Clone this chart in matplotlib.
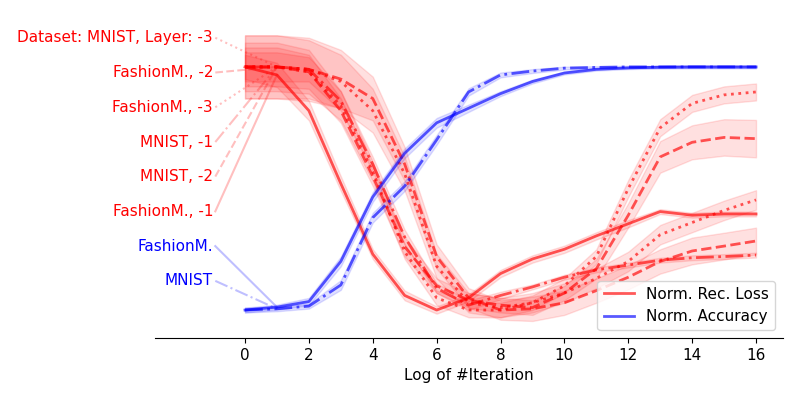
import numpy as np
import matplotlib
matplotlib.use("Agg")
import matplotlib.pyplot as plt

plt.rcParams['font.size'] = 11
plt.rcParams['font.family'] = ['DejaVu Sans']

iterations = list(range(17))

# Normalised reconstruction loss (red) — mean and spread
loss_labels = ["Dataset: MNIST, Layer: -3", "FashionM., -2", "FashionM., -3",
               "MNIST, -1", "MNIST, -2", "FashionM., -1"]
loss_styles = [":", "--", ":", "-.", "--", "-"]
loss_mnist_l3 = [1.0, 1.0, 0.99, 0.94, 0.82, 0.56, 0.18, 0.03, 0.01, 0.03, 0.07, 0.13, 0.20, 0.31, 0.36, 0.41, 0.453]
loss_fash_l2 = [1.0, 1.0, 0.99, 0.95, 0.87, 0.60, 0.22, 0.05, 0.0, 0.005, 0.03, 0.08, 0.135, 0.20, 0.243, 0.263, 0.284]
loss_fash_l3 = [1.0, 1.0, 0.98, 0.84, 0.57, 0.24, 0.05, 0.0, 0.0, 0.03, 0.10, 0.22, 0.50, 0.75, 0.85, 0.885, 0.897]
loss_mnist_l1 = [1.0, 1.0, 0.99, 0.86, 0.60, 0.30, 0.09, 0.02, 0.06, 0.095, 0.135, 0.165, 0.185, 0.205, 0.215, 0.22, 0.226]
loss_mnist_l2 = [1.0, 1.0, 0.98, 0.82, 0.55, 0.26, 0.10, 0.04, 0.02, 0.01, 0.07, 0.17, 0.39, 0.63, 0.69, 0.71, 0.705]
loss_fash_l1 = [1.0, 0.967, 0.82, 0.52, 0.23, 0.06, 0.0, 0.05, 0.15, 0.21, 0.25, 0.305, 0.355, 0.405, 0.39, 0.395, 0.395]

std_mnist_l3 = [0.13, 0.13, 0.12, 0.11, 0.09, 0.07, 0.05, 0.04, 0.04, 0.04, 0.04, 0.04, 0.04, 0.04, 0.04, 0.04, 0.04]
std_fash_l2 = [0.13, 0.13, 0.13, 0.12, 0.09, 0.07, 0.05, 0.04, 0.04, 0.05, 0.05, 0.05, 0.05, 0.05, 0.055, 0.055, 0.055]
std_fash_l3 = [0.10, 0.10, 0.09, 0.06, 0.04, 0.03, 0.03, 0.03, 0.03, 0.03, 0.03, 0.03, 0.035, 0.035, 0.035, 0.035, 0.035]
std_mnist_l1 = [0.06, 0.06, 0.05, 0.04, 0.03, 0.03, 0.02, 0.02, 0.015, 0.01, 0.01, 0.01, 0.01, 0.01, 0.01, 0.01, 0.01]
std_mnist_l2 = [0.08, 0.08, 0.07, 0.05, 0.04, 0.04, 0.03, 0.03, 0.03, 0.03, 0.03, 0.04, 0.05, 0.065, 0.07, 0.075, 0.077]
std_fash_l1 = [0.05, 0.05, 0.04, 0.03, 0.02, 0.02, 0.015, 0.015, 0.015, 0.015, 0.015, 0.015, 0.015, 0.01, 0.01, 0.01, 0.01]

# Normalised accuracy (blue)
acc_labels = ["FashionM.", "MNIST"]
acc_styles = ["-", "-."]
acc_fash = [0.0, 0.012, 0.035, 0.20, 0.465, 0.645, 0.77, 0.83, 0.89, 0.94, 0.975, 0.99, 0.996, 0.999, 1.0, 1.0, 1.0]
acc_mnist = [0.0, 0.005, 0.016, 0.103, 0.38, 0.51, 0.70, 0.897, 0.967, 0.983, 0.995, 0.998, 1.0, 1.0, 1.0, 1.0, 1.0]
acc_std_fash = [0.01, 0.01, 0.015, 0.02, 0.02, 0.02, 0.02, 0.015, 0.01, 0.008, 0.006, 0.005, 0.005, 0.005, 0.005, 0.005, 0.005]
acc_std_mnist = [0.01, 0.01, 0.01, 0.02, 0.02, 0.02, 0.02, 0.015, 0.01, 0.008, 0.006, 0.005, 0.005, 0.005, 0.005, 0.005, 0.005]

label_y = [1.12, 0.977, 0.834, 0.691, 0.549, 0.406, 0.263, 0.12]
xticks = [0, 2, 4, 6, 8, 10, 12, 14, 16]

loss_means = [loss_mnist_l3, loss_fash_l2, loss_fash_l3, loss_mnist_l1, loss_mnist_l2, loss_fash_l1]
loss_stds = [std_mnist_l3, std_fash_l2, std_fash_l3, std_mnist_l1, std_mnist_l2, std_fash_l1]
acc_means = [acc_fash, acc_mnist]
acc_stds = [acc_std_fash, acc_std_mnist]

fig = plt.figure(figsize=(8, 4), dpi=100)
ax = fig.add_axes([155/800, 62/400, 628/800, 318/400])
x = np.array(iterations)

series = []
for lab, st, m, s in zip(loss_labels, loss_styles, loss_means, loss_stds):
    series.append((lab, st, np.array(m), np.array(s), 'red'))
for lab, st, m, s in zip(acc_labels, acc_styles, acc_means, acc_stds):
    series.append((lab, st, np.array(m), np.array(s), 'blue'))

for i, (lab, st, m, s, c) in enumerate(series):
    ax.fill_between(x, m - s, m + s, color=c, alpha=0.12, linewidth=1)
    ax.plot(x, m, linestyle=st, color=c, alpha=0.65, linewidth=2)
    ly = label_y[i]
    ax.text(-1.0, ly, lab, color=c, ha='right', va='center', fontsize=11)
    ax.plot([-0.93, x[1]], [ly, m[1]], linestyle=st, color=c, alpha=0.25,
            linewidth=1.5, clip_on=False)

ax.plot([], [], color='red', alpha=0.65, linewidth=2, label='Norm. Rec. Loss')
ax.plot([], [], color='blue', alpha=0.65, linewidth=2, label='Norm. Accuracy')
ax.legend(loc='lower right')

ax.set_xlim(-2.818, 16.844)
ax.set_ylim(-0.115, 1.193)
ax.set_xticks(xticks)
ax.set_yticks([])
for sp in ['left', 'top', 'right']:
    ax.spines[sp].set_visible(False)
ax.set_xlabel('Log of #Iteration')

fig.savefig('out.png', dpi=100)
